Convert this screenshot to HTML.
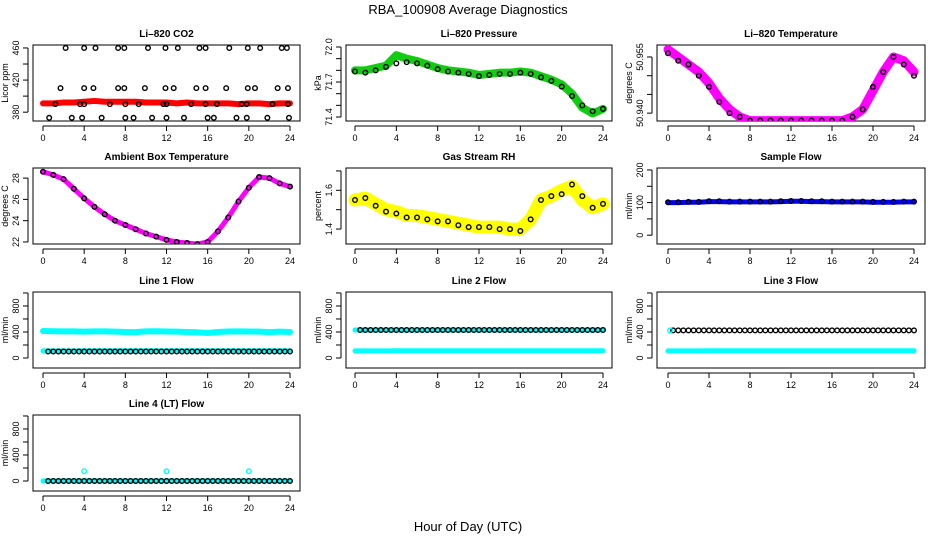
<!DOCTYPE html>
<html><head><meta charset="utf-8"><style>
body{margin:0;background:#fff;}
svg{display:block;font-family:"Liberation Sans",sans-serif;}
</style></head><body>
<svg id="chart" width="936" height="540" viewBox="0 0 936 540" xmlns="http://www.w3.org/2000/svg">
<rect width="936" height="540" fill="#fff"/>
<text x="468" y="14" text-anchor="middle" font-size="13">RBA_100908  Average Diagnostics</text>
<text x="468" y="531" text-anchor="middle" font-size="13">Hour of Day (UTC)</text>
</svg>
<script>
const HOURS=[0,1,2,3,4,5,6,7,8,9,10,11,12,13,14,15,16,17,18,19,20,21,22,23,24];
const HALF=[0.5,1,1.5,2,2.5,3,3.5,4,4.5,5,5.5,6,6.5,7,7.5,8,8.5,9,9.5,10,10.5,11,11.5,12,12.5,13,13.5,14,14.5,15,15.5,16,16.5,17,17.5,18,18.5,19,19.5,20,20.5,21,21.5,22,22.5,23,23.5,24];
const XTICKS=[0,4,8,12,16,20,24];
const co2Band=[391,391,392,392,393,394,393,393,393,393,392,392,392,391,392,391,391,391,391,390,391,391,390,391,391];
const co2PtHours=[2.2,4,5.1,7.3,7.9,10.2,11.9,13.1,15.2,15.8,18.1,19.9,21.1,23.2,23.7,1.7,4,4.9,7.3,7.9,9.9,11.9,12.7,14.9,15.8,17.8,19.9,20.6,22.8,23.8,1.2,3.6,4,6.5,8,9.3,11.7,12,14.4,15.8,16.9,19.3,19.8,22.3,23.8,0.6,2.8,3.8,5.7,8,8.8,10.6,12,13.7,16,16.6,18.8,19.8,21.8,23.9];
const co2PtVals=[460,460,460,460,460,460,460,460,460,460,460,460,460,460,460,410,410,410,410,410,410,410,410,410,410,410,410,410,410,410,390,390,390,390,390,390,390,390,390,390,390,390,390,390,390,373,373,373,373,373,373,373,373,373,373,373,373,373,373,373];
const presBand=[71.80,71.80,71.82,71.84,71.93,71.90,71.88,71.85,71.82,71.80,71.79,71.78,71.76,71.77,71.78,71.78,71.79,71.78,71.75,71.72,71.68,71.60,71.48,71.43,71.47];
const presPts=[71.79,71.78,71.80,71.83,71.86,71.87,71.86,71.84,71.81,71.79,71.78,71.77,71.75,71.76,71.77,71.77,71.78,71.77,71.74,71.71,71.66,71.58,71.50,71.45,71.47];
const tempBand=[50.957,50.955,50.953,50.951,50.948,50.944,50.941,50.939,50.938,50.938,50.938,50.938,50.938,50.938,50.938,50.938,50.938,50.938,50.939,50.941,50.946,50.951,50.955,50.954,50.951];
const tempPts=[50.956,50.954,50.953,50.950,50.947,50.943,50.940,50.939,50.938,50.938,50.938,50.938,50.938,50.938,50.938,50.938,50.938,50.938,50.939,50.941,50.947,50.951,50.955,50.953,50.950];
const ambBand=[28.6,28.3,27.9,27.0,26.1,25.3,24.6,24.0,23.6,23.2,22.8,22.5,22.2,22.0,21.9,21.8,22.0,23.0,24.3,25.8,27.1,28.1,28.0,27.5,27.2];
const ambPts=[28.6,28.3,27.9,27.0,26.1,25.3,24.6,24.0,23.6,23.2,22.8,22.5,22.2,22.0,21.9,21.8,22.0,23.0,24.3,25.8,27.1,28.1,28.0,27.5,27.2];
const rhBand=[1.55,1.56,1.53,1.50,1.49,1.47,1.47,1.46,1.45,1.44,1.43,1.42,1.41,1.41,1.41,1.40,1.40,1.45,1.55,1.57,1.60,1.62,1.55,1.51,1.53];
const rhPts=[1.55,1.56,1.52,1.49,1.48,1.46,1.46,1.45,1.44,1.44,1.42,1.41,1.41,1.41,1.40,1.40,1.39,1.45,1.55,1.57,1.58,1.63,1.57,1.51,1.53];
const sampBand=[100,100,101,101,103,103,102,102,102,102,102,103,104,104,103,103,102,102,102,102,101,101,101,102,102];
const sampPts=[101,101,102,102,104,104,103,103,103,103,103,104,105,105,104,104,103,103,103,103,102,102,102,103,103];
const l1High=[415,412,410,410,405,410,410,405,400,398,410,412,408,405,400,395,385,400,408,410,408,405,398,405,400];
const lowBand=[110,110,110,110,112,112,112,112,112,112,112,112,112,112,112,112,112,112,112,112,112,112,112,112,112];
const l1Pts=[100,100,100,100,100,100,100,100,100,100,100,100,100,100,100,100,100,100,100,100,100,100,100,100,100,100,100,100,100,100,100,100,100,100,100,100,100,100,100,100,100,100,100,100,100,100,100,100];
const l2High=[430,430,430,430,430,430,430,430,430,430,430,430,430,430,430,430,430,430,430,430,430,430,430,430,430];
const l2Pts=[430,430,430,430,430,430,430,430,430,430,430,430,430,430,430,430,430,430,430,430,430,430,430,430,430,430,430,430,430,430,430,430,430,430,430,430,430,430,430,430,430,430,430,430,430,430,430,430];
const l3Pts=[425,425,425,425,425,425,425,425,425,425,425,425,425,425,425,425,425,425,425,425,425,425,425,425,425,425,425,425,425,425,425,425,425,425,425,425,425,425,425,425,425,425,425,425,425,425,425,425];
const l4Band=[2,2,2,2,2,2,2,2,2,2,2,2,2,2,2,2,2,2,2,2,2,2,2,2,2];
const l4Pts=[0,0,0,0,0,0,0,0,0,0,0,0,0,0,0,0,0,0,0,0,0,0,0,0,0,0,0,0,0,0,0,0,0,0,0,0,0,0,0,0,0,0,0,0,0,0,0,0];
const l4OutHours=[4,12,20];
const l4OutVals=[150,150,150];

const svg=document.getElementById('chart');
const NS='http://www.w3.org/2000/svg';
function mk(tag,attrs,parent){const e=document.createElementNS(NS,tag);for(const k in attrs)e.setAttribute(k,attrs[k]);(parent||svg).appendChild(e);return e;}

const COLS=[{l:33,r:300,x0:43,x1:290},{l:346,r:612,x0:355,x1:603},{l:657,r:925,x0:668,x1:914}];
const ROWS=[45,168,292,415];
const H=76;

function panel(o){
  const c=COLS[o.col], top=ROWS[o.row], bot=top+H;
  const g=mk('g',{});
  
  
  const xs=h=>c.x0+h*(c.x1-c.x0)/24;
  const ys=v=>bot-(v-o.ymin)/(o.ymax-o.ymin)*H;
  const box=mk('rect',{x:c.l,y:top,width:c.r-c.l,height:H,fill:'none',stroke:'#000','stroke-width':1},g);
  
  
  const t=mk('text',{x:(c.l+c.r)/2,y:top-8,'text-anchor':'middle','font-size':10,'font-weight':'bold'},g);
  t.textContent=o.title;
  
  
  // x axis
  mk('line',{x1:c.x0,x2:c.x1,y1:bot+5,y2:bot+5,stroke:'#000'},g);
  XTICKS.forEach(v=>{
    mk('line',{x1:xs(v),x2:xs(v),y1:bot+5,y2:bot+10,stroke:'#000'},g);
    const tl=mk('text',{x:xs(v),y:bot+20,'text-anchor':'middle','font-size':9},g);
    tl.textContent=v;
    
    
  });
  // y axis
  const ax=c.l-5;
  mk('line',{x1:ax,x2:ax,y1:ys(o.ticks[0]),y2:ys(o.ticks[o.ticks.length-1]),stroke:'#000'},g);
  o.ticks.forEach(v=>{mk('line',{x1:ax,x2:ax-5,y1:ys(v),y2:ys(v),stroke:'#000'},g);});
  o.labels.forEach((v,i)=>{
    const tl=mk('text',{x:0,y:0,'text-anchor':'middle','font-size':9,transform:`translate(${ax-9},${ys(v)}) rotate(-90)`},g);
    tl.textContent=o.labelText?o.labelText[i]:v;
    
    
  });
  const yl=mk('text',{'text-anchor':'middle','font-size':9,transform:`translate(${c.l-25},${top+H/2}) rotate(-90)`},g);
  yl.textContent=o.ylab;
  
  
  // clip
  const cid='clip'+o.col+o.row;
  const cp=mk('clipPath',{id:cid},g);mk('rect',{x:c.l,y:top,width:c.r-c.l,height:H},cp);
  const pg=mk('g',{'clip-path':`url(#${cid})`},g);
  (o.bands||[]).forEach(b=>{
    const p=mk('polyline',{points:HOURS.map((h,i)=>xs(h)+','+ys(b.v[i])).join(' '),fill:'none',stroke:b.color,'stroke-width':b.w,'stroke-linejoin':'round','stroke-linecap':'round'},pg);
    
    
  });
  (o.pts||[]).forEach(s=>{
    s.h.forEach((h,i)=>{
      const ci=mk('circle',{cx:xs(h),cy:ys(s.v[i]),r:2.3,fill:'none',stroke:s.color||'#000','stroke-width':1.4},pg);
      
      
    });
  });
}

panel({name:'panel-co2',col:0,row:0,title:'Li\u2013820 CO2',ylab:'Licor ppm',ymin:369,ymax:463.7,ticks:[380,400,420,440,460],labels:[380,420,460],
  bands:[{v:co2Band,color:'#f00',w:6}],pts:[{h:co2PtHours,v:co2PtVals}]});
panel({name:'panel-pressure',col:1,row:0,title:'Li\u2013820 Pressure',ylab:'kPa',ymin:71.366,ymax:72.017,ticks:[71.4,71.5,71.6,71.7,71.8,71.9,72.0],labels:[71.4,71.7,72.0],labelText:['71.4','71.7','72.0'],
  bands:[{v:presBand,color:'#1c1',w:8}],pts:[{h:HOURS,v:presPts}]});
panel({name:'panel-li820-temperature',col:2,row:0,title:'Li\u2013820 Temperature',ylab:'degrees C',ymin:50.9379,ymax:50.9582,ticks:[50.940,50.945,50.950,50.955],labels:[50.940,50.955],labelText:['50.940','50.955'],
  bands:[{v:tempBand,color:'#f0f',w:9}],pts:[{h:HOURS,v:tempPts}]});
panel({name:'panel-ambient-temperature',col:0,row:1,title:'Ambient Box Temperature',ylab:'degrees C',ymin:21.81,ymax:28.95,ticks:[22,24,26,28],labels:[22,24,26,28],
  bands:[{v:ambBand,color:'#f0f',w:5}],pts:[{h:HOURS,v:ambPts}]});
panel({name:'panel-gas-rh',col:1,row:1,title:'Gas Stream RH',ylab:'percent',ymin:1.323,ymax:1.715,ticks:[1.4,1.5,1.6,1.7],labels:[1.4,1.6],labelText:['1.4','1.6'],
  bands:[{v:rhBand,color:'#ff0',w:13}],pts:[{h:HOURS,v:rhPts}]});
panel({name:'panel-sample-flow',col:2,row:1,title:'Sample Flow',ylab:'ml/min',ymin:-27,ymax:206,ticks:[0,50,100,150,200],labels:[0,100,200],
  bands:[{v:sampBand,color:'#00f',w:5}],pts:[{h:HOURS,v:sampPts}]});
const FLOW={ymin:-154,ymax:1015,ticks:[0,200,400,600,800,1000],labels:[0,400,800]};
panel(Object.assign({name:'panel-line1-flow',col:0,row:2,title:'Line 1 Flow',ylab:'ml/min',
  bands:[{v:l1High,color:'#0ff',w:6},{v:lowBand,color:'#0ff',w:5}],pts:[{h:HALF,v:l1Pts}]},FLOW));
panel(Object.assign({name:'panel-line2-flow',col:1,row:2,title:'Line 2 Flow',ylab:'ml/min',
  bands:[{v:l2High,color:'#0ff',w:5},{v:lowBand,color:'#0ff',w:5}],pts:[{h:HALF,v:l2Pts}]},FLOW));
panel(Object.assign({name:'panel-line3-flow',col:2,row:2,title:'Line 3 Flow',ylab:'ml/min',
  bands:[{v:lowBand,color:'#0ff',w:5}],pts:[{h:HALF,v:l3Pts},{h:[0.2],v:[425],color:'#0ff'}]},FLOW));
panel(Object.assign({name:'panel-line4-flow',col:0,row:3,title:'Line 4 (LT) Flow',ylab:'ml/min',
  bands:[{v:l4Band,color:'#0ff',w:5}],pts:[{h:HALF,v:l4Pts},{h:l4OutHours,v:l4OutVals,color:'#0ff'}]},FLOW));
</script>
</body></html>
